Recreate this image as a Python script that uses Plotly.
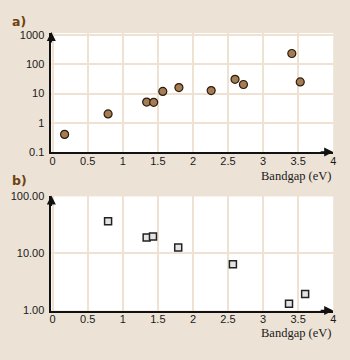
import plotly.graph_objects as go

# Panel a data
a_bandgap = [0.17, 0.79, 1.34, 1.44, 1.57, 1.80, 2.26, 2.60, 2.72, 3.41, 3.53]
a_values = [0.4, 2.0, 5.1, 5.0, 11.8, 16.0, 12.6, 30.6, 20.4, 235, 25]

# Panel b data
b_bandgap = [0.79, 1.34, 1.43, 1.79, 2.57, 3.37, 3.60]
b_values = [36.8, 19.0, 19.8, 12.7, 6.5, 1.31, 1.94]

x_ticks = [0, 0.5, 1, 1.5, 2, 2.5, 3, 3.5, 4]
x_ticklabels = ["0", "0.5", "1", "1.5", "2", "2.5", "3", "3.5", "4"]
a_yticks = [0.1, 1, 10, 100, 1000]
a_yticklabels = ["0.1", "1", "10", "100", "1000"]
b_yticks = [1, 10, 100]
b_yticklabels = ["1.00", "10.00", "100.00"]

BG = "#EDE2D6"
GRID = "#EFE2D2"
TICKFONT = dict(family="Liberation Sans", size=11, color="#1a1a1a")

fig = go.Figure()
fig.add_trace(go.Scatter(
    x=a_bandgap, y=a_values, mode="markers", xaxis="x", yaxis="y",
    marker=dict(size=8, color="#A67C52", line=dict(color="#2a1d10", width=1.2)),
    showlegend=False))
fig.add_trace(go.Scatter(
    x=b_bandgap, y=b_values, mode="markers", xaxis="x2", yaxis="y2",
    marker=dict(symbol="square", size=7, color="#E4E4E4", line=dict(color="#222222", width=1.5)),
    showlegend=False))

xl, xr = 50 / 350, 336 / 350
a_bot, a_top = (360 - 151) / 360, (360 - 28) / 360
b_bot, b_top = (360 - 315) / 360, (360 - 197) / 360

common_x = dict(range=[-0.02, 4.0], tickvals=x_ticks, ticktext=x_ticklabels,
                showgrid=True, gridcolor=GRID, gridwidth=1.5, showline=True,
                linecolor="#111111", linewidth=1.5, zeroline=False, ticks="",
                ticklabelstandoff=-2,
                tickfont=TICKFONT, domain=[xl, xr], fixedrange=True)
common_y = dict(type="log", showgrid=True, gridcolor=GRID, gridwidth=1.5,
                showline=True, linecolor="#111111", linewidth=1.5, zeroline=False,
                ticks="", ticklabelstandoff=3, tickfont=TICKFONT, fixedrange=True)

fig.update_layout(
    width=350, height=360, margin=dict(l=0, r=0, t=0, b=0),
    paper_bgcolor=BG, plot_bgcolor="white",
    xaxis=dict(**common_x, anchor="y"),
    yaxis=dict(**common_y, range=[-1, 3.07], tickvals=a_yticks, ticktext=a_yticklabels,
               domain=[a_bot, a_top], anchor="x"),
    xaxis2=dict(**common_x, anchor="y2"),
    yaxis2=dict(**common_y, range=[0, 2], tickvals=b_yticks, ticktext=b_yticklabels,
                domain=[b_bot, b_top], anchor="x2"),
)

ann = []
# panel labels
ann.append(dict(text="a)", x=8 / 350, y=(360 - 16) / 360, xref="paper", yref="paper",
                showarrow=False, xanchor="left", yanchor="middle",
                font=dict(family="DejaVu Sans", size=12.5, color="#6E4210", weight="bold")))
ann.append(dict(text="b)", x=8 / 350, y=(360 - 181) / 360, xref="paper", yref="paper",
                showarrow=False, xanchor="left", yanchor="middle",
                font=dict(family="DejaVu Sans", size=12.5, color="#6E4210", weight="bold")))
# axis titles
for yy in [(360 - 176) / 360, (360 - 338) / 360]:
    ann.append(dict(text="Bandgap (eV)", x=336 / 350, y=yy, xref="paper", yref="paper",
                    showarrow=False, xanchor="right", yanchor="middle",
                    font=dict(family="Liberation Serif", size=12.5, color="#1a1a1a")))
# arrows
for top, bot in [(a_top, a_bot), (b_top, b_bot)]:
    ann.append(dict(x=xl, y=top + 1 / 360, xref="paper", yref="paper", ax=0, ay=12,
                    showarrow=True, arrowhead=2, arrowsize=1.2, arrowwidth=1.5,
                    arrowcolor="#111111", text=""))
    ann.append(dict(x=xr, y=bot, xref="paper", yref="paper", ax=-14, ay=0,
                    showarrow=True, arrowhead=2, arrowsize=1.2, arrowwidth=1.5,
                    arrowcolor="#111111", text=""))
fig.update_layout(annotations=ann)

fig.write_html("out.html", config={"displayModeBar": False},
               post_script="document.body.style.margin='0';")
